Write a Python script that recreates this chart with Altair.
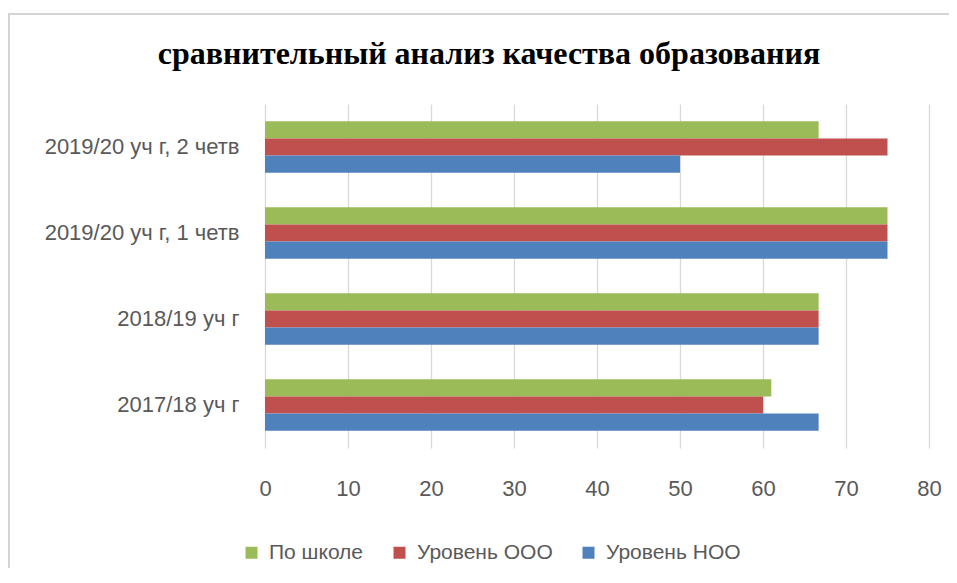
import altair as alt
import pandas as pd

periods = ["2019/20 уч г, 2 четв", "2019/20 уч г, 1 четв", "2018/19 уч г", "2017/18 уч г"]
series = ["По школе", "Уровень ООО", "Уровень НОО"]
colors = ["#9BBB59", "#C0504D", "#4F81BD"]
po_shkole = [66.7, 75, 66.7, 61]
uroven_ooo = [75, 75, 66.7, 60]
uroven_noo = [50, 75, 66.7, 66.7]
x_ticks = [0, 10, 20, 30, 40, 50, 60, 70, 80]

rows = []
for s, vals in zip(series, [po_shkole, uroven_ooo, uroven_noo]):
    for p, v in zip(periods, vals):
        rows.append({"period": p, "series": s, "value": v})
df = pd.DataFrame(rows)

label_color = "#595959"
label_font = "Liberation Sans"
fs = 22

bars = alt.Chart(df).mark_bar().encode(
    x=alt.X("value:Q", scale=alt.Scale(domain=[0, 80], nice=False),
            axis=alt.Axis(values=x_ticks, title=None, labelFlush=False,
                          grid=True, gridColor="#d9d9d9", gridWidth=1.3,
                          domain=False, ticks=False, labelPadding=30,
                          labelFontSize=fs, labelColor=label_color, labelFont=label_font)),
    y=alt.Y("period:N", sort=periods, scale=alt.Scale(paddingInner=0.4, paddingOuter=0.2),
            axis=alt.Axis(title=None, domain=False, ticks=False, grid=False,
                          labelPadding=26, labelFontSize=fs, labelColor=label_color,
                          labelFont=label_font, labelLimit=400)),
    yOffset=alt.YOffset("series:N", sort=series, scale=alt.Scale(paddingInner=0, paddingOuter=0)),
    color=alt.Color("series:N", scale=alt.Scale(domain=series, range=colors),
                    legend=alt.Legend(title=None, orient="none", legendX=-24, legendY=438,
                                      direction="horizontal", columns=3, symbolType="square",
                                      symbolSize=144, symbolStrokeWidth=0, labelFontSize=21,
                                      labelColor=label_color, labelFont=label_font,
                                      labelOffset=7, columnPadding=25)),
)

frame_left = alt.Chart(alt.Data(values=[{}])).mark_rule(color="#d4d4d4", strokeWidth=2).encode(
    x=alt.value(-256), y=alt.value(-90), y2=alt.value(520))
frame_top = alt.Chart(alt.Data(values=[{}])).mark_rule(color="#d4d4d4", strokeWidth=2).encode(
    x=alt.value(-257), x2=alt.value(720), y=alt.value(-90))

chart = alt.layer(frame_left, frame_top, bars).properties(
    width=664, height=344,
    title=alt.TitleParams("сравнительный анализ качества образования", font="Liberation Serif",
                          fontSize=32, fontWeight="bold", color="#000000", anchor="middle",
                          baseline="alphabetic", offset=-83, dx=-108),
    autosize=alt.AutoSizeParams(type="none"),
    padding={"left": 257, "top": 96, "right": 20, "bottom": 120},
).configure_view(stroke=None)

chart.save("out.html", embed_options={"renderer": "svg", "actions": False})
